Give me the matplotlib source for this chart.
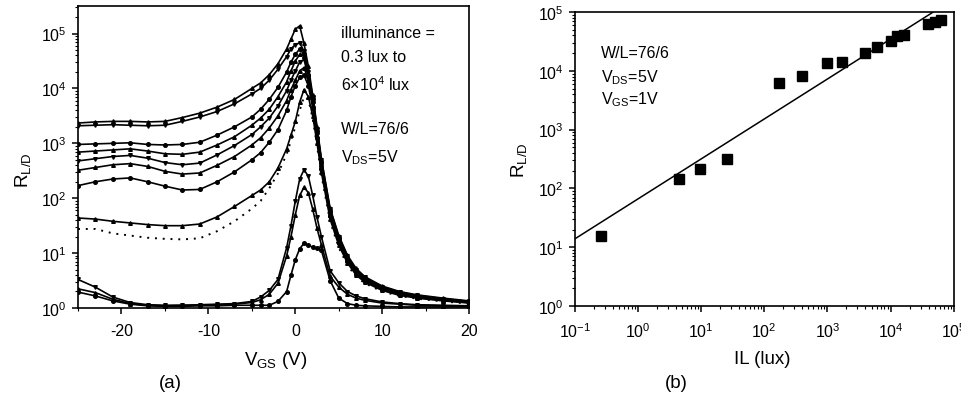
import numpy as np
import matplotlib
matplotlib.use("Agg")
import matplotlib.pyplot as plt
from matplotlib.ticker import LogLocator, MultipleLocator, NullFormatter

plt.rcParams['font.family'] = ['Liberation Sans', 'DejaVu Sans']
plt.rcParams['mathtext.fontset'] = 'custom'
plt.rcParams['mathtext.rm'] = 'Liberation Sans'
plt.rcParams['mathtext.it'] = 'Liberation Sans:italic'
plt.rcParams['mathtext.bf'] = 'Liberation Sans:bold'
plt.rcParams['axes.unicode_minus'] = False

# (a) R_L/D vs V_GS, one curve per illuminance; values are log10(R)
vgs = [-25, -23, -21, -19, -17, -15, -13, -11, -9, -7, -5, -4, -3, -2, -1, -0.5,
       0, 0.5, 1, 1.5, 2, 2.5, 3, 4, 5, 6, 7, 8, 10, 12, 14, 17, 20]

log_r1 = [3.37, 3.39, 3.40, 3.40, 3.39, 3.40, 3.47, 3.55, 3.66, 3.80, 4.00, 4.10, 4.25, 4.45, 4.72, 4.90,
          5.08, 5.14, 4.82, 4.40, 3.88, 3.30, 2.72, 1.82, 1.32, 0.96, 0.72, 0.57, 0.40, 0.30, 0.24, 0.18, 0.13]
log_r2 = [3.32, 3.33, 3.34, 3.33, 3.32, 3.33, 3.40, 3.48, 3.58, 3.72, 3.90, 4.00, 4.15, 4.35, 4.58, 4.72,
          4.80, 4.83, 4.68, 4.30, 3.85, 3.27, 2.70, 1.80, 1.30, 0.94, 0.70, 0.56, 0.39, 0.29, 0.23, 0.17, 0.12]
log_r3 = [2.98, 2.99, 3.00, 3.01, 2.98, 2.97, 2.98, 3.02, 3.15, 3.30, 3.48, 3.62, 3.80, 4.02, 4.30, 4.48,
          4.62, 4.72, 4.62, 4.25, 3.80, 3.23, 2.66, 1.77, 1.27, 0.92, 0.68, 0.54, 0.38, 0.28, 0.22, 0.16, 0.12]
log_r4 = [2.84, 2.86, 2.88, 2.90, 2.86, 2.81, 2.80, 2.84, 2.97, 3.12, 3.33, 3.46, 3.62, 3.85, 4.12, 4.32,
          4.50, 4.62, 4.60, 4.22, 3.77, 3.20, 2.63, 1.74, 1.25, 0.90, 0.67, 0.53, 0.37, 0.27, 0.21, 0.16, 0.11]
log_r5 = [2.68, 2.72, 2.76, 2.78, 2.73, 2.65, 2.61, 2.64, 2.79, 2.96, 3.16, 3.30, 3.46, 3.68, 3.96, 4.15,
          4.32, 4.48, 4.53, 4.20, 3.74, 3.17, 2.60, 1.72, 1.23, 0.88, 0.65, 0.51, 0.36, 0.26, 0.21, 0.15, 0.11]
log_r6 = [2.51, 2.56, 2.61, 2.63, 2.58, 2.49, 2.44, 2.46, 2.60, 2.76, 2.97, 3.10, 3.28, 3.50, 3.78, 3.98,
          4.15, 4.32, 4.38, 4.15, 3.70, 3.14, 2.57, 1.70, 1.21, 0.87, 0.64, 0.50, 0.35, 0.26, 0.20, 0.15, 0.10]
log_r7 = [2.23, 2.30, 2.35, 2.37, 2.30, 2.22, 2.15, 2.16, 2.30, 2.48, 2.70, 2.83, 3.02, 3.25, 3.60, 3.85,
          4.05, 4.20, 4.24, 4.05, 3.65, 3.10, 2.54, 1.67, 1.19, 0.85, 0.62, 0.49, 0.34, 0.25, 0.19, 0.14, 0.10]
log_r8 = [1.64, 1.62, 1.58, 1.55, 1.52, 1.50, 1.50, 1.53, 1.66, 1.85, 2.05, 2.15, 2.30, 2.55, 2.90, 3.15,
          3.40, 3.75, 3.98, 3.85, 3.50, 3.00, 2.47, 1.62, 1.14, 0.82, 0.60, 0.47, 0.32, 0.23, 0.18, 0.13, 0.09]
log_r9 = [1.44, 1.44, 1.36, 1.32, 1.28, 1.26, 1.25, 1.27, 1.40, 1.58, 1.81, 1.95, 2.18, 2.45, 2.80, 3.05,
          3.30, 3.60, 3.85, 3.80, 3.45, 2.95, 2.42, 1.58, 1.10, 0.78, 0.57, 0.45, 0.30, 0.22, 0.17, 0.12, 0.08]
log_r10 = [0.52, 0.38, 0.20, 0.10, 0.06, 0.05, 0.05, 0.06, 0.07, 0.08, 0.12, 0.20, 0.32, 0.52, 1.10, 1.50,
           1.95, 2.35, 2.52, 2.40, 2.05, 1.65, 1.30, 0.68, 0.46, 0.30, 0.22, 0.17, 0.11, 0.08, 0.06, 0.05, 0.04]
log_r11 = [0.35, 0.28, 0.16, 0.08, 0.05, 0.04, 0.05, 0.05, 0.06, 0.07, 0.10, 0.15, 0.25, 0.45, 0.95, 1.30,
           1.70, 2.05, 2.20, 2.10, 1.80, 1.45, 1.15, 0.58, 0.38, 0.25, 0.18, 0.14, 0.09, 0.07, 0.05, 0.04, 0.03]
log_r12 = [0.29, 0.22, 0.13, 0.07, 0.04, 0.03, 0.03, 0.04, 0.04, 0.05, 0.05, 0.05, 0.05, 0.12, 0.30, 0.60,
           0.88, 1.08, 1.18, 1.14, 1.11, 1.09, 1.05, 0.50, 0.18, 0.08, 0.05, 0.04, 0.03, 0.02, 0.02, 0.02, 0.02]

# (b) R_L/D at V_GS = 1 V vs illuminance, with power-law fit
il_lux = [0.26, 4.5, 9.8, 26, 170, 390, 1000, 1730, 3900, 6200, 10000, 12600, 16200, 39000, 50000, 63000]
r_ld = [15.5, 145, 214, 320, 6300, 8300, 13500, 13900, 20000, 25700, 32000, 39800, 41000, 63000, 66500, 73000]
fit_log_a = 1.82   # log10 R at 1 lux
fit_slope = 0.68

fig = plt.figure(figsize=(9.61, 4.02), dpi=100)
ax1 = fig.add_axes([0.0812, 0.2313, 0.407, 0.751])
ax2 = fig.add_axes([0.598, 0.2363, 0.3944, 0.7313])

curves = [log_r1, log_r2, log_r3, log_r4, log_r5, log_r6, log_r7, log_r8,
          log_r10, log_r11, log_r12]
marks = ['^', 'v', 'o', '^', 'v', '^', 'o', '^', 'v', '^', 'o']
v = np.array(vgs)
for c, m in zip(curves, marks):
    ax1.plot(v, 10 ** np.array(c), color='black', lw=1.2, marker=m, ms=2.6,
             mfc='black', mec='black')
ax1.plot(v, 10 ** np.array(log_r9), color='black', lw=1.4, ls=(0, (1, 3)))

ax1.set_yscale('log')
ax1.set_xlim(-25, 20)
ax1.set_ylim(1, 10 ** 5.5)
ax1.xaxis.set_major_locator(MultipleLocator(10))
ax1.xaxis.set_minor_locator(MultipleLocator(5))
ax1.yaxis.set_major_locator(LogLocator(base=10, numticks=10))
ax1.yaxis.set_minor_locator(LogLocator(base=10, subs=np.arange(2, 10), numticks=20))
ax1.yaxis.set_minor_formatter(NullFormatter())
ax1.set_xlabel(r'V$_{\mathrm{GS}}$ (V)', fontsize=13.5)
ax1.set_ylabel(r'R$_{\mathrm{L/D}}$', fontsize=13.5)
ax1.xaxis.set_label_coords(0.504, -0.135)
ax1.yaxis.set_label_coords(-0.114, 0.46)

t = ax1.transAxes
ax1.text(0.673, 0.914, 'illuminance =', transform=t, fontsize=11.5, va='center')
ax1.text(0.673, 0.834, '0.3 lux to', transform=t, fontsize=11.5, va='center')
ax1.text(0.673, 0.744, r'6×10$^{4}$ lux', transform=t, fontsize=11.5, va='center')
ax1.text(0.673, 0.593, 'W/L=76/6', transform=t, fontsize=11.5, va='center')
ax1.text(0.673, 0.503, r'V$_{\mathrm{DS}}$=5V', transform=t, fontsize=11.5, va='center')

# (b)
il = np.array(il_lux)
ax2.plot(il, r_ld, ls='none', marker='s', ms=6.5, color='black')
x_fit = np.logspace(-1, 5, 50)
ax2.plot(x_fit, 10 ** (fit_log_a + fit_slope * np.log10(x_fit)), color='black', lw=1.1)
ax2.set_xscale('log')
ax2.set_yscale('log')
ax2.set_xlim(0.1, 1e5)
ax2.set_ylim(1, 1e5)
for axis in (ax2.xaxis, ax2.yaxis):
    axis.set_major_locator(LogLocator(base=10, numticks=10))
    axis.set_minor_locator(LogLocator(base=10, subs=np.arange(2, 10), numticks=20))
    axis.set_minor_formatter(NullFormatter())
ax2.set_xlabel('IL (lux)', fontsize=13.5)
ax2.set_ylabel(r'R$_{\mathrm{L/D}}$', fontsize=13.5)
ax2.xaxis.set_label_coords(0.496, -0.15)
ax2.yaxis.set_label_coords(-0.121, 0.5)

t2 = ax2.transAxes
ax2.text(0.07, 0.864, 'W/L=76/6', transform=t2, fontsize=11.5, va='center')
ax2.text(0.07, 0.779, r'V$_{\mathrm{DS}}$=5V', transform=t2, fontsize=11.5, va='center')
ax2.text(0.07, 0.704, r'V$_{\mathrm{GS}}$=1V', transform=t2, fontsize=11.5, va='center')

for ax in (ax1, ax2):
    ax.tick_params(which='both', direction='out', labelsize=11.5, top=False, right=False)
    ax.tick_params(which='major', length=4, width=1.1)
    ax.tick_params(which='minor', length=2.5, width=0.8)
    ax.tick_params(axis='x', which='major', pad=7)
    ax.tick_params(axis='y', which='major', pad=4)
    for s in ax.spines.values():
        s.set_linewidth(1.2)

fig.text(0.177, 0.045, '(a)', fontsize=13.5, ha='center', va='center')
fig.text(0.704, 0.045, '(b)', fontsize=13.5, ha='center', va='center')

fig.savefig('out.png', dpi=100)
